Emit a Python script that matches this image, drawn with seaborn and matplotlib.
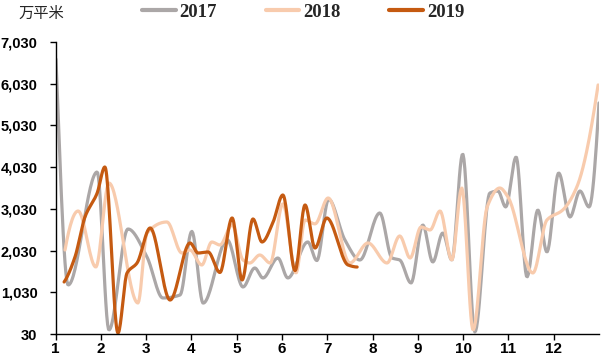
import numpy as np
import pandas as pd
import matplotlib
matplotlib.use("Agg")
import matplotlib.pyplot as plt
import seaborn as sns
from matplotlib.ticker import FuncFormatter

# ---------------- data (x = month position, y = 万平米) ----------------
x2017 = [1.01, 1.28, 1.92, 2.18, 2.60, 3.02, 3.37, 3.75, 4.01, 4.26, 4.79, 5.14,
         5.40, 5.58, 5.91, 6.13, 6.57, 6.77, 7.03, 7.39, 7.72, 8.16, 8.43, 8.60,
         8.85, 9.11, 9.33, 9.55, 9.75, 9.99, 10.26, 10.59, 10.77, 10.94, 11.17,
         11.41, 11.65, 11.85, 12.11, 12.36, 12.58, 12.78, 13.00]
y2017 = [6620, 1205, 3914, 126, 2547, 1876, 893, 965, 2490, 770, 2290, 1157,
         1613, 1373, 1852, 1373, 2236, 1790, 3260, 2284, 1804, 2931, 1852, 1804,
         1253, 2643, 1756, 2451, 1804, 4345, 78, 3410, 3458, 3075, 4274,
         1397, 3003, 1996, 3890, 2835, 3458, 3075, 5568]

x2018 = [1.21, 1.50, 1.89, 2.18, 2.82, 3.02, 3.46, 3.79, 3.97, 4.23, 4.45, 4.63,
         4.90, 5.14, 5.29, 5.51, 5.74, 6.02, 6.31, 6.51, 6.73, 7.02, 7.50, 7.90,
         8.32, 8.60, 8.83, 9.07, 9.27, 9.49, 9.75, 9.97, 10.22, 10.53, 10.81,
         10.99, 11.54, 11.85, 12.20, 12.51, 12.98]
y2018 = [2044, 2979, 1636, 3650, 773, 2450, 2715, 1972, 2044, 1684, 2236, 2164,
         2643, 1804, 1732, 1924, 1732, 3150, 1493, 2763, 2670, 3291, 1732, 2212,
         1732, 2380, 1852, 2595, 2523, 2979, 1804, 3530, 126, 3075, 3530,
         3315, 1493, 2763, 3003, 3554, 6000]

x2019 = [1.19, 1.43, 1.65, 1.92, 2.09, 2.38, 2.58, 2.80, 3.09, 3.53, 3.97, 4.15,
         4.37, 4.63, 4.90, 5.12, 5.36, 5.56, 5.80, 6.02, 6.29, 6.51, 6.73, 6.99,
         7.46, 7.66]
y2019 = [1277, 1876, 2835, 3410, 4034, 54, 1493, 1732, 2571, 845, 2212, 1972,
         1996, 1505, 2811, 1325, 2787, 2236, 2700, 3362, 1550, 3123, 2092, 2811,
         1684, 1636]

years = ["2017", "2018", "2019"]
colors = ["#ABA7A7", "#F8CBAD", "#C55A11"]
month_ticks = list(range(1, 13))
y_ticks = [30, 1030, 2030, 3030, 4030, 5030, 6030, 7030]
unit_label = "万平米"


def pchip(x, y, xs):
    x = np.asarray(x, float); y = np.asarray(y, float)
    h = np.diff(x); d = np.diff(y) / h
    n = len(x); m = np.zeros(n)
    for k in range(1, n - 1):
        if d[k - 1] * d[k] > 0:
            w1 = 2 * h[k] + h[k - 1]; w2 = h[k] + 2 * h[k - 1]
            m[k] = (w1 + w2) / (w1 / d[k - 1] + w2 / d[k])
    def endslope(h0, h1, d0, d1):
        s = ((2 * h0 + h1) * d0 - h0 * d1) / (h0 + h1)
        if np.sign(s) != np.sign(d0):
            s = 0.0
        elif np.sign(d0) != np.sign(d1) and abs(s) > abs(3 * d0):
            s = 3 * d0
        return s
    if n > 2:
        m[0] = endslope(h[0], h[1], d[0], d[1])
        m[-1] = endslope(h[-1], h[-2], d[-1], d[-2])
    else:
        m[:] = d[0]
    idx = np.clip(np.searchsorted(x, xs) - 1, 0, n - 2)
    t = (xs - x[idx]) / h[idx]
    h00 = 2 * t**3 - 3 * t**2 + 1; h10 = t**3 - 2 * t**2 + t
    h01 = -2 * t**3 + 3 * t**2; h11 = t**3 - t**2
    return h00 * y[idx] + h10 * h[idx] * m[idx] + h01 * y[idx + 1] + h11 * h[idx] * m[idx + 1]


frames = []
for yr, xs_, ys_ in zip(years, [x2017, x2018, x2019], [y2017, y2018, y2019]):
    xx = np.linspace(xs_[0], xs_[-1], 600)
    frames.append(pd.DataFrame({"month": xx, "value": pchip(xs_, ys_, xx), "year": yr}))
df = pd.concat(frames, ignore_index=True)

sns.set_theme(style="white")
plt.rcParams["font.family"] = ["Liberation Sans", "Noto Sans CJK SC", "DejaVu Sans"]

fig = plt.figure(figsize=(6.01, 3.61), dpi=100)
ax = fig.add_axes([55.5 / 601, 1 - 334 / 361, (599 - 55.5) / 601, (334 - 42) / 361])

sns.lineplot(data=df, x="month", y="value", hue="year", hue_order=years,
             palette=colors, sort=False, linewidth=2.3, ax=ax, legend=True)

ax.set_xlim(1, 13)
ax.set_ylim(30, 7030)
ax.set_xticks(month_ticks)
ax.set_xticklabels([str(m) for m in month_ticks])
ax.set_yticks(y_ticks)
ax.yaxis.set_major_formatter(FuncFormatter(lambda v, p: f"{int(v):,}"))
ax.set_xlabel("")
ax.set_ylabel("")
for s in ["top", "right"]:
    ax.spines[s].set_visible(False)
for s in ["left", "bottom"]:
    ax.spines[s].set_color("black")
    ax.spines[s].set_linewidth(1.0)
ax.tick_params(axis="both", which="major", direction="out", length=4, width=1,
               color="black", left=True, bottom=True)
ax.tick_params(axis="y", pad=9)
ax.tick_params(axis="x", pad=2)
for lab in ax.get_xticklabels() + ax.get_yticklabels():
    lab.set_fontweight("bold")
    lab.set_fontsize(10.5)
    lab.set_color("black")
    lab.set_family("Liberation Sans")
for lab in ax.get_xticklabels():
    lab.set_fontsize(11)

handles, labels = ax.get_legend_handles_labels()
for hd in handles:
    hd.set_linewidth(3)
ax.legend(handles, labels, loc="center", bbox_to_anchor=(303 / 601, 1 - 12 / 361),
          bbox_transform=fig.transFigure, ncol=3, frameon=False,
          handlelength=1.8, handletextpad=0.2, columnspacing=2.6,
          prop={"family": "Liberation Serif", "weight": "bold", "size": 13.5})

fig.text(18 / 601, 1 - 13 / 361, unit_label, fontsize=11, ha="left", va="center",
         family=["Noto Sans CJK SC", "DejaVu Sans"], style="italic")

fig.savefig("out.png", dpi=100)
